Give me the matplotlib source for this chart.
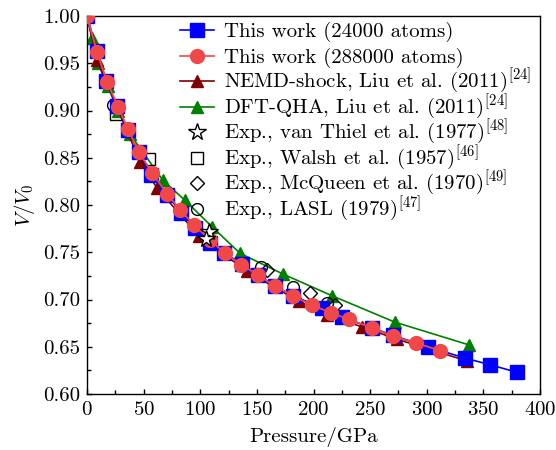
import matplotlib
matplotlib.use("Agg")
import numpy as np
import matplotlib.pyplot as plt
from matplotlib.lines import Line2D
from matplotlib.legend_handler import HandlerLine2D
from matplotlib.ticker import MultipleLocator, FormatStrFormatter

plt.rcParams['font.family'] = ['cmr10', 'DejaVu Serif']
plt.rcParams['mathtext.fontset'] = 'cm'
plt.rcParams['axes.formatter.use_mathtext'] = True
plt.rcParams['axes.unicode_minus'] = False

# This work (24000 atoms)
p_24k = [0, 8.8, 16.8, 26.5, 36.2, 45.9, 56.5, 70.6, 83.0, 95.4, 108.6, 121.0, 136.9,
         151.0, 166.0, 181.9, 207.5, 225.2, 251.7, 270.2, 301.1, 333.8, 355.8, 379.7]
v_24k = [1.000, 0.963, 0.931, 0.905, 0.879, 0.856, 0.832, 0.811, 0.792, 0.776, 0.760, 0.749, 0.738,
         0.726, 0.714, 0.704, 0.691, 0.681, 0.670, 0.662, 0.650, 0.638, 0.631, 0.623]
# This work (288000 atoms)
p_288k = [0, 8.8, 17.7, 27.4, 36.2, 45.9, 57.4, 70.6, 82.1, 94.5, 108.6, 121.9, 136.0,
          151.0, 166.0, 181.9, 198.7, 215.5, 231.3, 251.7, 270.2, 290.5, 311.7]
v_288k = [1.000, 0.962, 0.930, 0.904, 0.880, 0.856, 0.834, 0.812, 0.795, 0.779, 0.763, 0.749, 0.737,
          0.726, 0.714, 0.704, 0.694, 0.686, 0.679, 0.670, 0.661, 0.654, 0.646]
# NEMD-shock
p_nemd = [0, 8.8, 46.8, 61.8, 98.9, 141.3, 187.2, 211.9, 242.8, 273.7, 335.5]
v_nemd = [1.000, 0.953, 0.846, 0.818, 0.767, 0.730, 0.698, 0.684, 0.671, 0.658, 0.635]
# DFT-QHA
p_dft = [0, 4.4, 9.7, 18.5, 27.0, 38.0, 67.1, 86.5, 110.4, 135.0, 173.0, 216.3, 272.0, 337.3]
v_dft = [1.000, 0.977, 0.950, 0.926, 0.900, 0.875, 0.826, 0.805, 0.777, 0.749, 0.727, 0.704, 0.676, 0.652]
# Experiments
p_thiel = [107.7, 105.1]
v_thiel = [0.771, 0.764]
p_walsh = [25.6, 54.7]
v_walsh = [0.896, 0.849]
p_mcq = [158.9, 196.9, 219.0]
v_mcq = [0.731, 0.707, 0.694]
p_lasl = [23.0, 153.6, 182.0, 212.0]
v_lasl = [0.906, 0.734, 0.713, 0.696]

labels = ['This work (24000 atoms)', 'This work (288000 atoms)',
          r'NEMD-shock, Liu et al. (2011)$^{[24]}$', r'DFT-QHA, Liu et al. (2011)$^{[24]}$',
          r'Exp., van Thiel et al. (1977)$^{[48]}$', r'Exp., Walsh et al. (1957)$^{[46]}$',
          r'Exp., McQueen et al. (1970)$^{[49]}$', r'Exp., LASL (1979)$^{[47]}$']


class ShiftedLineHandler(HandlerLine2D):
    """Line2D legend handler that moves the key down to the text centre."""
    def __init__(self, shift, **kw):
        super().__init__(**kw)
        self.shift = shift

    def create_artists(self, legend, orig_handle, xdescent, ydescent,
                       width, height, fontsize, trans):
        arts = super().create_artists(legend, orig_handle, xdescent, ydescent,
                                      width, height, fontsize, trans)
        for a in arts:
            a.set_ydata(np.asarray(a.get_ydata(), dtype=float) - self.shift * fontsize)
        return arts


fig = plt.figure(figsize=(5.56, 4.5), dpi=100)
ax = fig.add_axes([0.1565, 0.1244, 0.8147, 0.8400])

h_dft, = ax.plot(p_dft, v_dft, '-^', color='#008000', ms=9, lw=1.2, zorder=2)
h_nemd, = ax.plot(p_nemd, v_nemd, '-^', color='#800000', ms=9, lw=1.2, zorder=3)
h_walsh, = ax.plot(p_walsh, v_walsh, 's', mfc='none', mec='black', ms=8, mew=1.0, zorder=3.5)
h_mcq, = ax.plot(p_mcq, v_mcq, 'D', mfc='none', mec='black', ms=7.5, mew=1.0, zorder=3.5)
h_lasl, = ax.plot(p_lasl, v_lasl, 'o', mfc='none', mec='black', ms=8.5, mew=1.0, zorder=3.5)
h_24k, = ax.plot(p_24k, v_24k, '-s', color='#0000ff', ms=10, lw=1.2, zorder=4)
h_288k, = ax.plot(p_288k, v_288k, '-o', color='#f04848', ms=10, lw=1.2, zorder=5)
ax.plot(p_288k, v_288k, '-', color='#c8305a', lw=1.0, zorder=4.5)
h_thiel, = ax.plot(p_thiel, v_thiel, '*', mfc='white', mec='black', ms=13, mew=1.0, zorder=6)

ax.set_xlim(0, 400)
ax.set_ylim(0.60, 1.00)
ax.xaxis.set_major_locator(MultipleLocator(50))
ax.xaxis.set_minor_locator(MultipleLocator(25))
ax.yaxis.set_major_locator(MultipleLocator(0.05))
ax.yaxis.set_minor_locator(MultipleLocator(0.025))
ax.yaxis.set_major_formatter(FormatStrFormatter('%.2f'))
ax.tick_params(which='both', direction='in', top=False, right=False, labelsize=15, width=1.0)
ax.tick_params(which='major', length=3.5, pad=5)
ax.tick_params(which='minor', length=3)
for s in ax.spines.values():
    s.set_linewidth(1.0)

ax.set_xlabel('Pressure/GPa', fontsize=15, labelpad=6)
ax.set_ylabel(r'$V/V_0$', fontsize=15, labelpad=4)

handles = [h_24k, h_288k, h_nemd, h_dft, h_thiel, h_walsh, h_mcq, h_lasl]
hh = 2.2
# marker centre from the handler is at fs*(0.3*hh+0.49)/2 above baseline; move it to ~0.33 fs
shift = (0.3 * hh + 0.49) / 2 - 0.33
ax.legend(handles, labels, loc='upper left', bbox_to_anchor=(0.205, 1.008),
          frameon=False, fontsize=15, handlelength=1.65, handletextpad=0.45,
          handleheight=hh, labelspacing=-0.45, borderaxespad=0, borderpad=0,
          handler_map={Line2D: ShiftedLineHandler(shift)})

fig.savefig('out.png', dpi=100)
